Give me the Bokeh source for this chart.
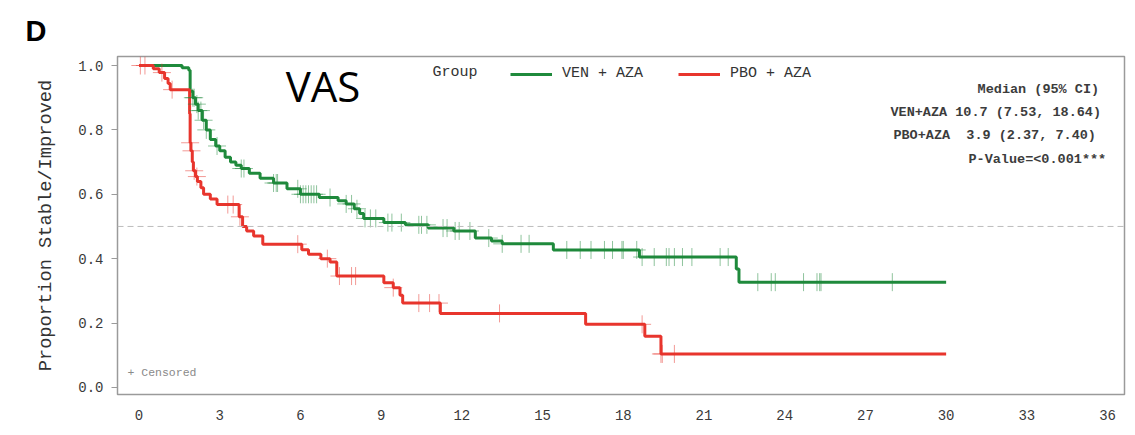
import numpy as np
from bokeh.plotting import figure
from bokeh.models import (Range1d, FixedTicker, PrintfTickFormatter, Span, Label,
                          Legend, LegendItem)
from bokeh.embed import file_html
from bokeh.resources import INLINE

# Kaplan-Meier curves: step times (months) and proportion stable/improved after each step
ven_times = [0.0, 1.60, 1.85, 1.90, 2.00, 2.10, 2.20, 2.35, 2.50, 2.65, 2.85, 3.00, 3.20,
             3.40, 3.60, 3.80, 4.10, 4.50, 5.00, 5.50, 6.00, 6.70, 7.40, 7.70, 8.00, 8.20,
             8.35, 9.10, 9.90, 10.75, 11.70, 12.50, 13.10, 13.50, 15.40, 18.60, 22.20,
             22.30, 30.0]
ven_surv = [1.0, 0.993, 0.985, 0.92, 0.90, 0.88, 0.86, 0.83, 0.80, 0.77, 0.75, 0.735, 0.715,
            0.70, 0.69, 0.68, 0.665, 0.65, 0.635, 0.617, 0.60, 0.59, 0.58, 0.57, 0.555, 0.54,
            0.525, 0.512, 0.505, 0.495, 0.486, 0.464, 0.455, 0.446, 0.427, 0.405, 0.368,
            0.327, 0.327]

pbo_times = [0.0, 0.53, 0.75, 0.95, 1.08, 1.16, 1.88, 1.90, 1.93, 1.98, 2.02, 2.10, 2.17,
             2.30, 2.40, 2.65, 2.90, 3.72, 3.85, 4.00, 4.26, 4.60, 6.05, 6.30, 6.76, 7.10,
             7.35, 9.10, 9.45, 9.70, 9.80, 11.20, 16.60, 18.80, 19.40, 30.0]
pbo_surv = [1.0, 0.99, 0.978, 0.96, 0.944, 0.925, 0.85, 0.76, 0.735, 0.70, 0.673, 0.655, 0.64,
            0.62, 0.60, 0.585, 0.568, 0.53, 0.50, 0.486, 0.47, 0.445, 0.428, 0.414, 0.40, 0.39,
            0.346, 0.325, 0.31, 0.286, 0.262, 0.23, 0.196, 0.159, 0.104, 0.104]

# Censoring times (months)
ven_censor = [2.0, 2.05, 2.15, 2.2, 2.3, 2.4, 2.5, 2.9, 3.8, 3.9, 5.0, 5.1, 5.15, 5.9, 6.0,
              6.1, 6.2, 6.3, 6.4, 6.5, 6.6, 7.1, 7.7, 7.9, 8.1, 8.4, 8.6, 8.8, 9.25, 9.4,
              9.75, 10.4, 10.5, 10.7, 11.3, 11.45, 11.75, 11.9, 12.3, 13.0, 13.5, 14.2, 14.5,
              15.9, 16.4, 16.8, 17.3, 17.6, 17.95, 18.0, 18.5, 18.7, 19.15, 19.6, 19.7, 19.9,
              20.2, 20.55, 21.6, 21.9, 23.0, 23.5, 23.65, 24.7, 25.2, 25.3, 25.35, 28.0]
pbo_censor = [0.05, 0.22, 0.85, 1.23, 1.9, 1.95, 2.05, 2.15, 3.3, 3.5, 3.75, 5.9, 7.0, 7.45,
              7.9, 8.05, 9.45, 10.4, 10.8, 11.15, 13.4, 18.7, 19.4, 19.45, 19.9]

group_labels = ["VEN + AZA", "PBO + AZA"]
# non-breaking space keeps the column alignment of the PBO row
stats_lines = ["Median (95% CI)",
               "VEN+AZA 10.7 (7.53, 18.64)",
               "PBO+AZA\u00a0 3.9 (2.37, 7.40)",
               "P-Value=<0.001***"]
x_ticks = list(range(0, 37, 3))
y_ticks = [0.0, 0.2, 0.4, 0.6, 0.8, 1.0]

GREEN = "#1f8a3c"
RED = "#e8352d"
MONO = "Liberation Mono"
TXT = "#333333"


def surv_at(times, surv, t):
    t_arr = np.asarray(times)
    s_arr = np.asarray(surv)
    idx = np.searchsorted(t_arr, t, side="right") - 1
    return s_arr[np.clip(idx, 0, len(s_arr) - 1)]


p = figure(width=1135, height=435, output_backend="svg", toolbar_location=None,
           x_range=Range1d(-0.8, 36.63), y_range=Range1d(-0.022, 1.028),
           min_border_left=117, min_border_right=11, min_border_top=56,
           min_border_bottom=41)
p.background_fill_color = "white"
p.border_fill_color = "white"
p.xgrid.visible = False
p.ygrid.visible = False
p.outline_line_color = "#9a9a9a"
p.outline_line_width = 1.5

# panel tag "D" as the figure title, pulled left of the frame
p.title.text = "D"
p.title.align = "left"
p.title.offset = -92
p.title.standoff = 20
p.title.text_font = "Liberation Sans"
p.title.text_font_size = "29px"
p.title.text_font_style = "bold"
p.title.text_color = "black"

# axes
p.xaxis.ticker = FixedTicker(ticks=x_ticks)
p.yaxis.ticker = FixedTicker(ticks=y_ticks)
p.yaxis.formatter = PrintfTickFormatter(format="%.1f")
for ax in (p.xaxis, p.yaxis):
    ax.axis_line_color = None
    ax.minor_tick_line_color = None
    ax.major_label_text_font = MONO
    ax.major_label_text_font_size = "14px"
    ax.major_label_text_color = "#3a3a3a"
p.xaxis.major_tick_line_color = None
p.xaxis.major_label_standoff = 9
p.yaxis.major_tick_line_color = "#9a9a9a"
p.yaxis.major_tick_out = 6
p.yaxis.major_tick_in = 0
p.yaxis.major_label_standoff = 8
p.yaxis.axis_label = "Proportion Stable/Improved"
p.yaxis.axis_label_text_font = MONO
p.yaxis.axis_label_text_font_size = "18.7px"
p.yaxis.axis_label_text_font_style = "normal"
p.yaxis.axis_label_text_color = TXT
p.yaxis.axis_label_standoff = 18

# median reference line
p.add_layout(Span(location=0.5, dimension="width", line_color="#bdbdbd",
                  line_dash="6 4", line_width=1))

# survival curves
ven_line = p.step(ven_times, ven_surv, mode="after", line_color=GREEN, line_width=3)
pbo_line = p.step(pbo_times, pbo_surv, mode="after", line_color=RED, line_width=3)

# censor marks
p.scatter(ven_censor, surv_at(ven_times, ven_surv, ven_censor), marker="cross", size=18,
          line_color=GREEN, line_alpha=0.5, line_width=1)
p.scatter(pbo_censor, surv_at(pbo_times, pbo_surv, pbo_censor), marker="cross", size=18,
          line_color=RED, line_alpha=0.5, line_width=1)

# legend
legend = Legend(items=[LegendItem(label=group_labels[0], renderers=[ven_line]),
                       LegendItem(label=group_labels[1], renderers=[pbo_line])],
                location=(393, 312), orientation="horizontal",
                glyph_width=42, glyph_height=16, label_standoff=10, spacing=35,
                padding=0, margin=0, border_line_color=None, background_fill_alpha=0,
                label_text_font=MONO, label_text_font_size="15px",
                label_text_color=TXT)
p.add_layout(legend)
p.add_layout(Label(x=10.91, y=0.978, text="Group", text_font=MONO, text_font_size="15px",
                   text_color=TXT, text_baseline="middle"))

# statistics box
stat_x = [31.17, 27.93, 28.04, 30.83]
stat_y = [0.926, 0.854, 0.783, 0.708]
for tx, ty, line in zip(stat_x, stat_y, stats_lines):
    p.add_layout(Label(x=tx, y=ty, text=line, text_font=MONO, text_font_size="13.5px",
                       text_font_style="bold", text_color="#3c3c3c",
                       text_baseline="middle"))

p.add_layout(Label(x=-0.43, y=0.047, text="+ Censored", text_font=MONO,
                   text_font_size="11.5px", text_color="#8a8a8a", text_baseline="middle"))

p.add_layout(Label(x=5.45, y=0.938, text="VAS", text_font="Open Sans",
                   text_font_size="42px", text_color="black", text_baseline="alphabetic"))

# x-axis title sits at the lower edge of the canvas
p.add_layout(Label(x=18.0, y=-0.143, text="Time to Deterioration (Months)", text_font=MONO,
                   text_font_size="18px", text_color=TXT, text_align="center",
                   text_baseline="top"))

open("out.html", "w").write(file_html(p, INLINE))
